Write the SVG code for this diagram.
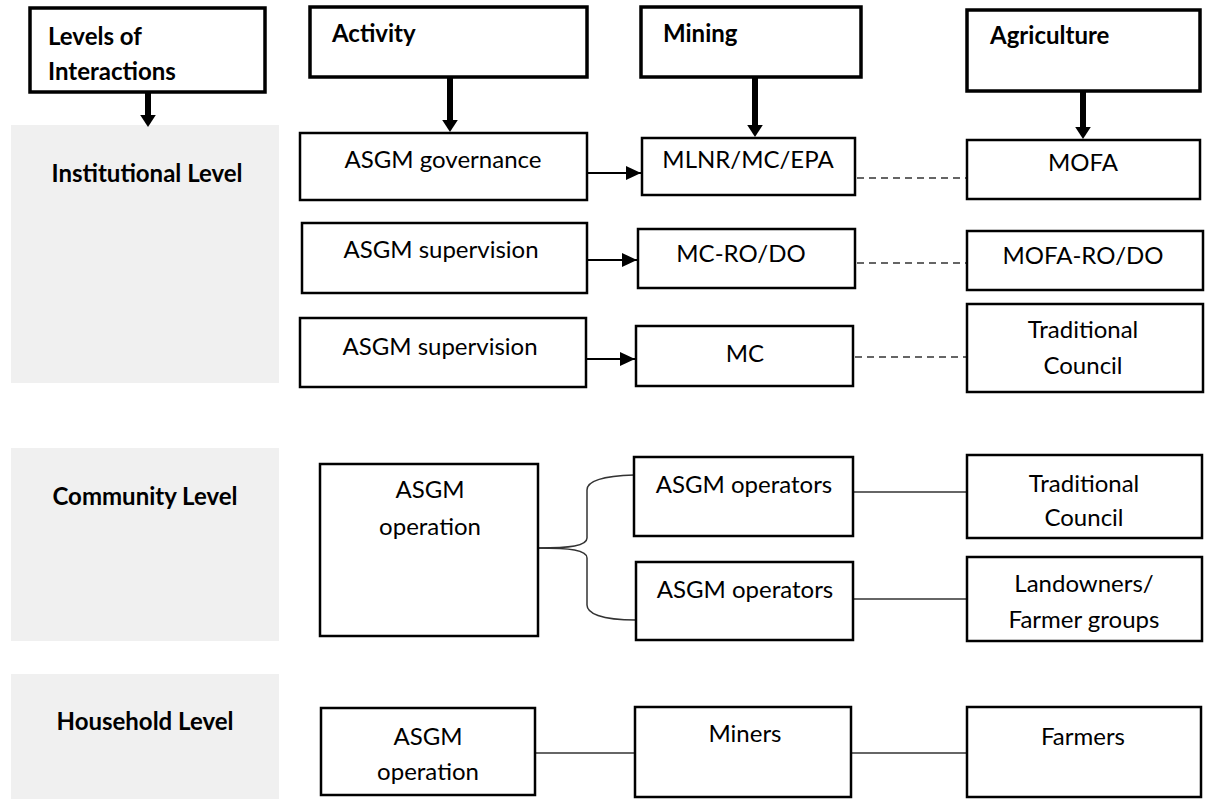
<svg xmlns="http://www.w3.org/2000/svg" width="1207" height="799" viewBox="0 0 1207 799">
<style>
.bg{fill:#f0f0f0;stroke:none}
.hd{fill:#fff;stroke:#000;stroke-width:3.5}
.bx{fill:#fff;stroke:#000;stroke-width:2.5}
.t{font-family:Lato,"Liberation Sans",sans-serif;font-size:24px;fill:#000}
.b{font-family:Lato,"Liberation Sans",sans-serif;font-size:24px;font-weight:bold;fill:#000}
.c{text-anchor:middle}
.thick{stroke:#000;stroke-width:6;fill:none}
.arr{stroke:#000;stroke-width:2;fill:none}
.dash{stroke:#333;stroke-width:1.5;stroke-dasharray:7,5;fill:none}
.ln{stroke:#333;stroke-width:1.5;fill:none}
</style>
<defs>
<marker id="hv" markerWidth="3" markerHeight="3" refX="0" refY="1.3" orient="auto" markerUnits="strokeWidth">
<path d="M0,0 L2,1.3 L0,2.6 Z" fill="#000"/>
</marker>
<marker id="hh" markerWidth="8" markerHeight="8" refX="7.5" refY="3.5" orient="auto" markerUnits="strokeWidth">
<path d="M0,0 L7.5,3.5 L0,7 Z" fill="#000"/>
</marker>
</defs>
<rect width="1207" height="799" fill="#fff"/>

<g id="levels-bg">
<rect class="bg" x="11" y="125" width="268" height="258"/>
<rect class="bg" x="11" y="448" width="268" height="193"/>
<rect class="bg" x="11" y="674" width="268" height="125"/>
</g>

<g id="connectors">
<line class="thick" x1="148" y1="92" x2="148" y2="115" marker-end="url(#hv)"/>
<line class="thick" x1="450" y1="77" x2="450" y2="120" marker-end="url(#hv)"/>
<line class="thick" x1="755" y1="77" x2="755" y2="125" marker-end="url(#hv)"/>
<line class="thick" x1="1083" y1="91" x2="1083" y2="127" marker-end="url(#hv)"/>
<line class="arr" x1="587" y1="173" x2="641" y2="173" marker-end="url(#hh)"/>
<line class="arr" x1="587" y1="260" x2="637" y2="260" marker-end="url(#hh)"/>
<line class="arr" x1="586" y1="359" x2="635" y2="359" marker-end="url(#hh)"/>
<line class="dash" x1="857" y1="178" x2="966" y2="178"/>
<line class="dash" x1="857" y1="263" x2="966" y2="263"/>
<line class="dash" x1="855" y1="357" x2="966" y2="357"/>
<path class="ln" d="M538,548 C570,548 587,546 587,538 L587,490 C587,482 600,476 634,475"/>
<path class="ln" d="M538,548 C570,548 587,550 587,558 L587,605 C587,613 600,620 636,620"/>
<line class="ln" x1="853" y1="492" x2="966" y2="492"/>
<line class="ln" x1="853" y1="599" x2="966" y2="599"/>
<line class="ln" x1="533" y1="753" x2="636" y2="753"/>
<line class="ln" x1="851" y1="753" x2="966" y2="753"/>
</g>

<g id="levels-header">
<rect class="hd" x="30" y="8" width="235" height="84"/>
<text class="b" x="48" y="45">Levels of</text>
<text class="b" x="48" y="80">Interactions</text>
</g>
<g id="activity-header">
<rect class="hd" x="310" y="7" width="277" height="70"/>
<text class="b" x="332" y="42">Activity</text>
</g>
<g id="mining-header">
<rect class="hd" x="641" y="7" width="220" height="70"/>
<text class="b" x="663" y="42">Mining</text>
</g>
<g id="agriculture-header">
<rect class="hd" x="967" y="10" width="233" height="81"/>
<text class="b" x="990" y="44">Agriculture</text>
</g>

<g id="institutional-level"><text class="b c" x="147" y="182">Institutional Level</text></g>
<g id="community-level"><text class="b c" x="145" y="505">Community Level</text></g>
<g id="household-level"><text class="b c" x="145" y="730">Household Level</text></g>

<g id="asgm-governance">
<rect class="bx" x="300" y="133" width="287" height="67"/>
<text class="t c" x="443" y="168">ASGM governance</text>
</g>
<g id="mlnr">
<rect class="bx" x="642" y="138" width="213" height="57"/>
<text class="t c" x="748" y="168">MLNR/MC/EPA</text>
</g>
<g id="mofa">
<rect class="bx" x="967" y="140" width="233" height="59"/>
<text class="t c" x="1083" y="171">MOFA</text>
</g>

<g id="asgm-supervision-1">
<rect class="bx" x="302" y="223" width="285" height="70"/>
<text class="t c" x="441" y="258">ASGM supervision</text>
</g>
<g id="mc-ro-do">
<rect class="bx" x="638" y="229" width="217" height="59"/>
<text class="t c" x="741" y="262">MC-RO/DO</text>
</g>
<g id="mofa-ro-do">
<rect class="bx" x="967" y="231" width="236" height="59"/>
<text class="t c" x="1083" y="264">MOFA-RO/DO</text>
</g>

<g id="asgm-supervision-2">
<rect class="bx" x="300" y="318" width="286" height="69"/>
<text class="t c" x="440" y="355">ASGM supervision</text>
</g>
<g id="mc">
<rect class="bx" x="636" y="326" width="217" height="60"/>
<text class="t c" x="745" y="362">MC</text>
</g>
<g id="traditional-council-1">
<rect class="bx" x="967" y="304" width="236" height="88"/>
<text class="t c" x="1083" y="338">Traditional</text>
<text class="t c" x="1083" y="374">Council</text>
</g>

<g id="asgm-operation-1">
<rect class="bx" x="320" y="464" width="218" height="172"/>
<text class="t c" x="430" y="498">ASGM</text>
<text class="t c" x="430" y="535">operation</text>
</g>
<g id="asgm-operators-1">
<rect class="bx" x="634" y="457" width="219" height="79"/>
<text class="t c" x="744" y="493">ASGM operators</text>
</g>
<g id="traditional-council-2">
<rect class="bx" x="967" y="455" width="235" height="83"/>
<text class="t c" x="1084" y="492">Traditional</text>
<text class="t c" x="1084" y="526">Council</text>
</g>
<g id="asgm-operators-2">
<rect class="bx" x="636" y="562" width="217" height="78"/>
<text class="t c" x="745" y="598">ASGM operators</text>
</g>
<g id="landowners">
<rect class="bx" x="967" y="557" width="235" height="84"/>
<text class="t c" x="1084" y="592">Landowners/</text>
<text class="t c" x="1084" y="628">Farmer groups</text>
</g>

<g id="asgm-operation-2">
<rect class="bx" x="321" y="708" width="214" height="87"/>
<text class="t c" x="428" y="745">ASGM</text>
<text class="t c" x="428" y="780">operation</text>
</g>
<g id="miners">
<rect class="bx" x="635" y="707" width="216" height="90"/>
<text class="t c" x="745" y="742">Miners</text>
</g>
<g id="farmers">
<rect class="bx" x="967" y="707" width="234" height="90"/>
<text class="t c" x="1083" y="745">Farmers</text>
</g>
</svg>
